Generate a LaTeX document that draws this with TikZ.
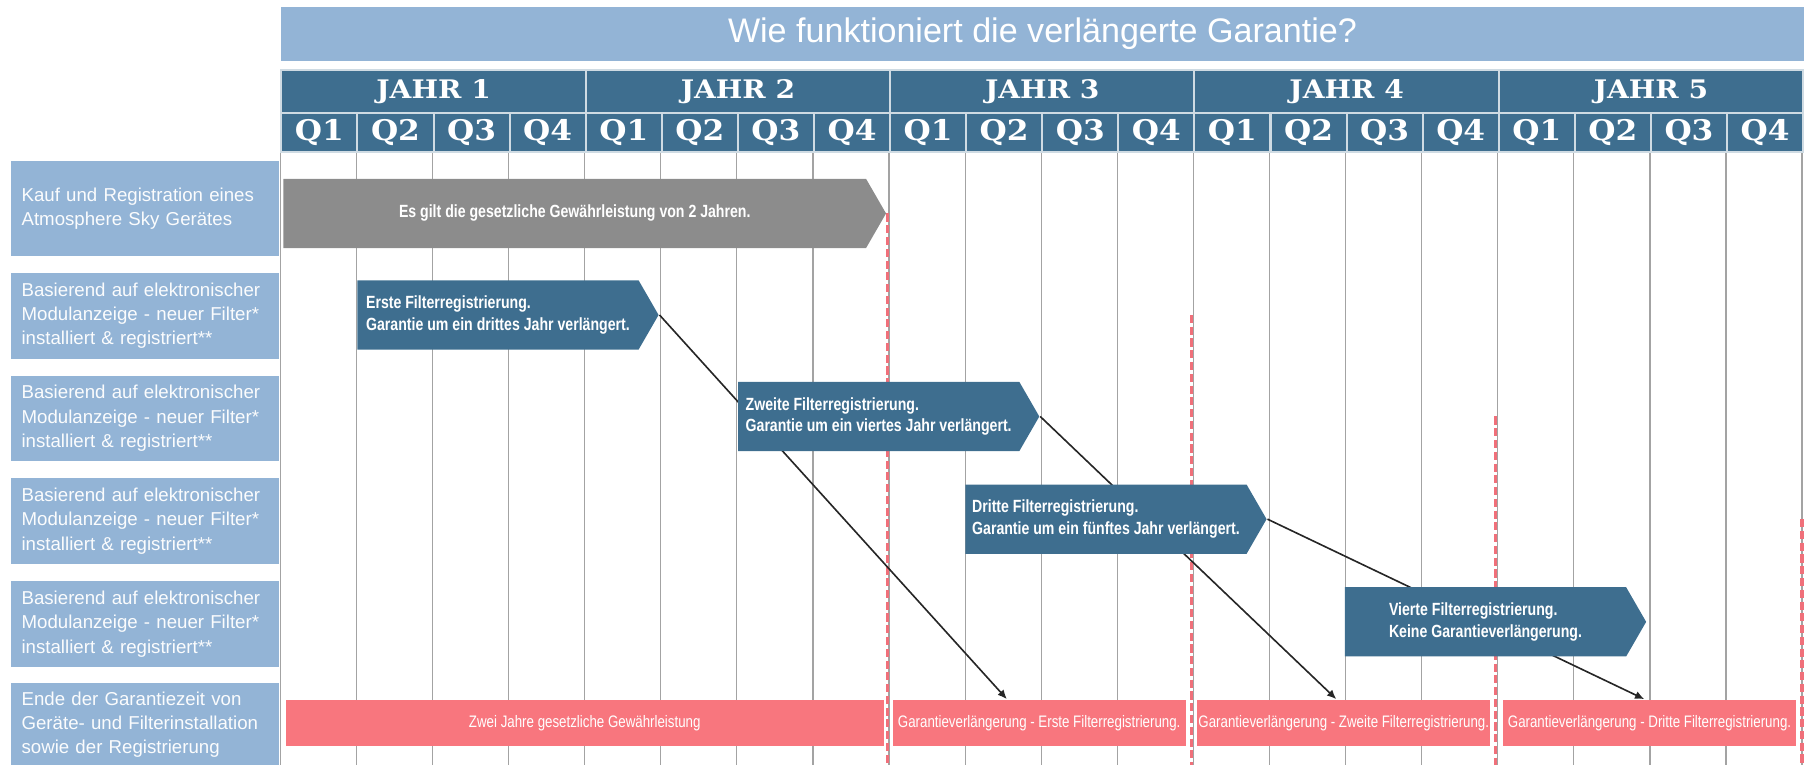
\documentclass[tikz,border=0pt]{standalone}
\usepackage{fontspec}
\setmainfont{Liberation Sans}
\newfontfamily\slabfont[FakeStretch=1.1]{DejaVu Serif}
\newfontfamily\condfont[FakeStretch=0.8]{Liberation Sans}
\usetikzlibrary{shapes.symbols,arrows.meta}

\definecolor{paleblue}{HTML}{93B4D6}
\definecolor{deepblue}{HTML}{3E6E8F}
\definecolor{stonegray}{HTML}{8C8C8C}
\definecolor{salmon}{HTML}{F8767E}
\definecolor{cutred}{HTML}{F0707A}
\definecolor{gridgray}{HTML}{A3A3A3}
\colorlet{headline}{white!75!deepblue}

\newcommand\rowfont{\fontsize{4.6}{6}\selectfont\hyphenpenalty 10000\relax\exhyphenpenalty 10000\relax}

\pgfdeclarelayer{grid}
\pgfdeclarelayer{links}
\pgfsetlayers{grid,links,main}

\tikzset{
    titlebar/.style={fill=paleblue, anchor=north west, minimum width=13.19cm, minimum height=0.47cm,
        inner sep=0pt, text=white, font=\fontsize{8.4}{10}\selectfont},
    yearcell/.style={draw=headline, line width=0.5pt, fill=deepblue, anchor=north west, inner sep=0pt,
        minimum width=2.638cm, minimum height=0.37cm, text=white, font=\slabfont\bfseries\fontsize{6.3}{7}\selectfont},
    qcell/.style={yearcell, minimum width=0.6595cm, minimum height=0.34cm, font=\slabfont\bfseries\fontsize{7}{8}\selectfont},
    rowlabel/.style={fill=paleblue, anchor=north west, minimum height=0.74cm, inner xsep=0.09cm, inner ysep=0pt,
        text width=2.14cm, align=left, text=white!96!paleblue, font=\rowfont},
    sig/.style={signal, signal to=east, signal pointer angle=120, fill=deepblue, anchor=west, inner sep=0pt,
        minimum width=2.61cm, minimum height=0.6cm, align=left, text=white, font=\condfont\bfseries\fontsize{4.35}{5.4}\selectfont},
    bar/.style={fill=salmon, anchor=north west, minimum width=2.54cm, minimum height=0.4cm, inner sep=0pt,
        text=white, font=\condfont\fontsize{4.1}{5}\selectfont},
    gridline/.style={draw=gridgray, line width=0.3pt},
    redcut/.style={draw=cutred, line width=0.8pt, dash pattern=on 2pt off 0.9pt},
    link/.style={draw=black!85, line width=0.4pt, -{Latex[length=2.3pt,width=2pt]}}
}

\begin{document}
\begin{tikzpicture}[x=0.01cm, y=-0.01cm]

            \useasboundingbox (0,0) rectangle (1568,663);

            \node[titlebar] (hd) at (243,5) {Wie funktioniert die verlängerte Garantie?};

            \foreach \y in {1,...,5}
              \node[yearcell] (j\y) at ({243+263.8*(\y-1)},60) {JAHR \y};
            \foreach \y in {1,...,5}
              \foreach \q in {1,...,4}
                \node[qcell] (q\y\q) at ({243+263.8*(\y-1)+65.95*(\q-1)},97) {Q\q};

            \begin{pgfonlayer}{grid}
              \foreach \k in {0,...,20}
                \draw[gridline] ({243+65.95*\k},131) -- ({243+65.95*\k},663);
            \end{pgfonlayer}

            \node[rowlabel, minimum height=0.82cm] (r1) at (9,139) {Kauf und Registration eines\\Atmosphere Sky Gerätes};
            \foreach \r/\top in {2/236,3/325,4/414,5/503}
              \node[rowlabel] (r\r) at (9,\top) {Basierend auf elektronischer\\Modulanzeige - neuer Filter*\\installiert \& registriert**};
            \node[rowlabel, minimum height=0.73cm] (r6) at (9,591) {Ende der Garantiezeit von\\Geräte- und Filterinstallation\\sowie der Registrierung};

            \node[sig, fill=stonegray, minimum width=5.22cm] (g0) at (245,185) {Es gilt die gesetzliche Gewährleistung von 2 Jahren.};
            \node[sig] (f1) at (309,273) {Erste Filterregistrierung.\\Garantie um ein drittes Jahr verlängert.};
            \node[sig] (f2) at (639,361) {Zweite Filterregistrierung.\\Garantie um ein viertes Jahr verlängert.};
            \node[sig] (f3) at (836,450) {Dritte Filterregistrierung.\\Garantie um ein fünftes Jahr verlängert.};
            \node[sig] (f4) at (1165,539) {Vierte Filterregistrierung.\\Keine Garantieverlängerung.};

            \node[bar, minimum width=5.18cm] (p1) at (247,606) {Zwei Jahre gesetzliche Gewährleistung};
            \node[bar] (p2) at (773,606) {Garantieverlängerung - Erste Filterregistrierung.};
            \node[bar] (p3) at (1037,606) {Garantieverlängerung - Zweite Filterregistrierung.};
            \node[bar] (p4) at (1302,606) {Garantieverlängerung - Dritte Filterregistrierung.};

            \begin{pgfonlayer}{links}
              \foreach \xx/\yy in {769/185,1033/273,1296/361,1562/450}
                \draw[redcut] (\xx,\yy) -- (\xx,663);
              \draw[link] (f1.east) -- ([xshift=-0.28cm]p2.north);
              \draw[link] (f2.east) -- ([xshift=-0.065cm]p3.north);
              \draw[link] (f3.east) -- ([xshift=-0.045cm]p4.north);
            \end{pgfonlayer}
        \end{tikzpicture}
\end{document}
